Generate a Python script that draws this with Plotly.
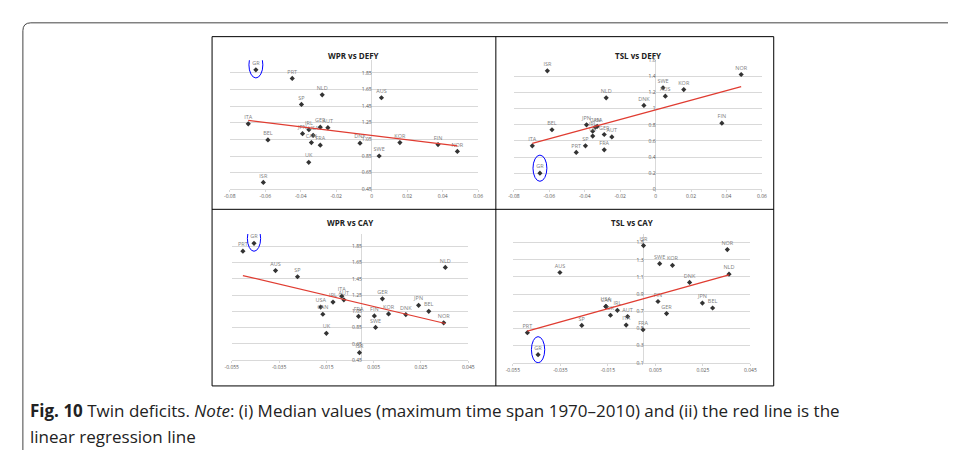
import numpy as np
import plotly.graph_objects as go

W, H = 956, 450

# ---- data ----
c1 = ["GR","PRT","NLD","SP","AUS","ITA","IRL","GER","AUT","JPN","USA","CAN","FRA","BEL","DNK","SWE","KOR","FIN","NOR","UK","ISR"]
defy1 = [-0.0653,-0.0448,-0.0279,-0.0396,0.0055,-0.0696,-0.0354,-0.029,-0.0247,-0.039,-0.033,-0.034,-0.029,-0.0585,-0.0066,0.0042,0.0159,0.0374,0.0483,-0.0355,-0.0611]
wpr1 = [1.886,1.783,1.585,1.47,1.55,1.237,1.166,1.197,1.19,1.118,1.099,1.012,0.98,1.043,1.004,0.85,1.012,0.988,0.905,0.774,0.533]

c2 = ["GR","PRT","SP","ITA","BEL","JPN","USA","CAN","IRL","UK","GER","AUT","FRA","NLD","DNK","SWE","AUS","KOR","NOR","FIN","ISR"]
defy2 = [-0.0653,-0.0448,-0.0396,-0.0696,-0.0585,-0.039,-0.033,-0.034,-0.0355,-0.0355,-0.029,-0.0247,-0.029,-0.0279,-0.0066,0.0042,0.0055,0.0159,0.0483,0.0374,-0.0611]
tsl2 = [0.2,0.457,0.539,0.539,0.739,0.80,0.78,0.77,0.72,0.66,0.68,0.65,0.49,1.135,1.04,1.26,1.155,1.237,1.424,0.82,1.47]

c3 = ["PRT","GR","AUS","SP","ITA","AUT","IRL","USA","CAN","UK","FRA","ISR","FIN","SWE","GER","KOR","DNK","JPN","BEL","NOR","NLD"]
cay3 = [-0.0503,-0.0456,-0.0365,-0.0272,-0.0085,-0.0076,-0.0122,-0.0174,-0.0165,-0.015,-0.0014,-0.001,0.0053,0.0058,0.0087,0.0113,0.0186,0.024,0.0283,0.0346,0.0353]
wpr3 = [1.789,1.886,1.551,1.475,1.237,1.192,1.164,1.103,1.015,0.781,0.99,0.543,0.995,0.853,1.204,1.019,1.011,1.124,1.051,0.91,1.59]

c4 = ["PRT","GR","AUS","SP","USA","CAN","UK","IRL","AUT","ITA","FRA","ISR","FIN","GER","SWE","KOR","DNK","JPN","BEL","NOR","NLD"]
cay4 = [-0.0489,-0.0444,-0.0352,-0.026,-0.0159,-0.0157,-0.0139,-0.011,-0.0067,-0.0073,-0.0002,0.0,0.0061,0.0097,0.0068,0.0122,0.0194,0.0248,0.0291,0.0353,0.036]
tsl4 = [0.452,0.196,1.152,0.536,0.758,0.755,0.655,0.712,0.639,0.54,0.486,1.465,0.815,0.674,1.255,1.236,1.037,0.796,0.739,1.419,1.132]

titles = ["WPR vs DEFY", "TSL vs DEFY", "WPR vs CAY", "TSL vs CAY"]
xt_defy = [-0.08,-0.06,-0.04,-0.02,0,0.02,0.04,0.06]
xl_defy = ["-0.08","-0.06","-0.04","-0.02","0","0.02","0.04","0.06"]
xt_cay = [-0.055,-0.035,-0.015,0.005,0.025,0.045]
xl_cay = ["-0.055","-0.035","-0.015","0.005","0.025","0.045"]
yt_wpr = [0.45,0.65,0.85,1.05,1.25,1.45,1.65,1.85]
yl_wpr = ["0.45","0.65","0.85","1.05","1.25","1.45","1.65","1.85"]
yt_tsl1 = [0,0.2,0.4,0.6,0.8,1.0,1.2,1.4,1.6]
yl_tsl1 = ["0","0.2","0.4","0.6","0.8","1","1.2","1.4","1.6"]
yt_tsl2 = [0.1,0.3,0.5,0.7,0.9,1.1,1.3,1.5]
yl_tsl2 = ["0.1","0.3","0.5","0.7","0.9","1.1","1.3","1.5"]

# ---- layout geometry (pixels) ----
panels = [
    dict(names=c1, x=defy1, y=wpr1, px=(218,470), py=(50,180.7), xr=(-0.08,0.06), yr=(0.45,2.0),
         xt=xt_defy, xl=xl_defy, yt=yt_wpr, yl=yl_wpr, title_y=38),
    dict(names=c2, x=defy2, y=tsl2, px=(506.3,758), py=(50,180.7), xr=(-0.08,0.06), yr=(0,1.6),
         xt=xt_defy, xl=xl_defy, yt=yt_tsl1, yl=yl_tsl1, title_y=38),
    dict(names=c3, x=cay3, y=wpr3, px=(220,460), py=(226,354), xr=(-0.055,0.045), yr=(0.45,2.0),
         xt=xt_cay, xl=xl_cay, yt=yt_wpr, yl=yl_wpr, title_y=214),
    dict(names=c4, x=cay4, y=tsl4, px=(505.3,746.3), py=(226,356.7), xr=(-0.055,0.045), yr=(0.1,1.6),
         xt=xt_cay, xl=xl_cay, yt=yt_tsl2, yl=yl_tsl2, title_y=214),
]

fig = go.Figure()
layout = dict(width=W, height=H, margin=dict(l=0, r=0, t=0, b=0),
              paper_bgcolor="white", plot_bgcolor="white", showlegend=False)
shapes, annotations = [], []
GRID = "#d9d9d9"
TICKF = dict(family="Open Sans", size=5, color="#595959")

for i, p in enumerate(panels):
    k = "" if i == 0 else str(i + 1)
    xa, ya = "x" + k, "y" + k
    xdom = [p["px"][0] / W, p["px"][1] / W]
    ydom = [1 - p["py"][1] / H, 1 - p["py"][0] / H]
    zero_frac = (0 - p["xr"][0]) / (p["xr"][1] - p["xr"][0])
    ypos = xdom[0] + zero_frac * (xdom[1] - xdom[0])
    layout["xaxis" + k] = dict(domain=xdom, range=list(p["xr"]), anchor=ya, tickvals=p["xt"], ticktext=p["xl"],
                               showgrid=False, zeroline=True, zerolinecolor=GRID, zerolinewidth=1,
                               showline=True, linecolor=GRID, ticks="outside", ticklen=2, tickcolor=GRID,
                               tickfont=TICKF)
    layout["yaxis" + k] = dict(domain=ydom, range=list(p["yr"]), anchor="free", position=ypos,
                               tickvals=p["yt"], ticktext=p["yl"], showgrid=True, gridcolor=GRID,
                               zeroline=False, showline=False, ticks="", tickfont=TICKF)
    fig.add_trace(go.Scatter(x=p["x"], y=p["y"], mode="markers+text", text=p["names"],
                             textposition="top center", textfont=dict(family="Open Sans", size=5.5, color="#7f7f7f"),
                             marker=dict(symbol="diamond", size=4, color="#333333"),
                             xaxis=xa, yaxis=ya, cliponaxis=False))
    xs = np.array(p["x"]); ys = np.array(p["y"])
    m, b = np.polyfit(xs, ys, 1)
    lx = np.array([xs.min(), xs.max()])
    fig.add_trace(go.Scatter(x=lx, y=m * lx + b, mode="lines", line=dict(color="#e03c31", width=1.2),
                             xaxis=xa, yaxis=ya))
    gi = p["names"].index("GR")
    gx, gy = p["x"][gi], p["y"][gi]
    dx = (p["xr"][1] - p["xr"][0]) * 0.028
    dy = (p["yr"][1] - p["yr"][0]) * 0.14
    shapes.append(dict(type="circle", xref=xa, yref=ya, x0=gx - dx, x1=gx + dx,
                       y0=gy - dy * 0.45, y1=gy + dy * 1.0, line=dict(color="blue", width=1)))
    annotations.append(dict(text="<b>" + titles[i] + "</b>", x=(xdom[0] + xdom[1]) / 2, y=1 - p["title_y"] / H,
                            xref="paper", yref="paper", showarrow=False,
                            font=dict(family="Open Sans", size=8, color="#222")))

def px(x): return x / W
def py(y): return 1 - y / H
shapes.append(dict(type="rect", xref="paper", yref="paper", x0=px(200), x1=px(770), y0=py(380), y1=py(26),
                   line=dict(color="black", width=1)))
shapes.append(dict(type="line", xref="paper", yref="paper", x0=px(488), x1=px(488), y0=py(380), y1=py(26),
                   line=dict(color="black", width=1)))
shapes.append(dict(type="line", xref="paper", yref="paper", x0=px(200), x1=px(770), y0=py(201), y1=py(201),
                   line=dict(color="black", width=1)))
shapes.append(dict(type="path", xref="paper", yref="paper",
                   path=f"M {px(8)},{py(446)} L {px(8)},{py(20)} Q {px(8)},{py(12)} {px(16)},{py(12)} L {px(956)},{py(12)}",
                   line=dict(color="#444", width=1)))

CAPF = dict(family="Open Sans", size=17, color="#222")
annotations.append(dict(text="<b>Fig. 10</b> Twin deficits. <i>Note</i>: (i) Median values (maximum time span 1970–2010) and (ii) the red line is the",
                        x=px(13), y=py(405), xref="paper", yref="paper", xanchor="left", yanchor="middle",
                        showarrow=False, font=CAPF))
annotations.append(dict(text="linear regression line", x=px(13), y=py(431), xref="paper", yref="paper",
                        xanchor="left", yanchor="middle", showarrow=False, font=CAPF))

layout["shapes"] = shapes
layout["annotations"] = annotations
fig.update_layout(**layout)
fig.write_html("out.html")
